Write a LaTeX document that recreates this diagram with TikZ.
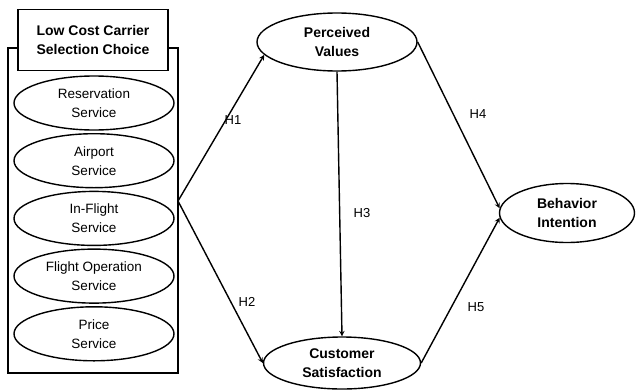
\documentclass[tikz,border=0pt]{standalone}
\usepackage{fontspec}
\setmainfont{Liberation Sans}
\usetikzlibrary{shapes.geometric}

\begin{document}
\begin{tikzpicture}[x=1pt,y=-1pt,line width=1.4pt,>=stealth,
  item/.style={ellipse,draw,minimum width=160pt,minimum height=54pt,inner sep=0pt,align=center,font=\fontsize{13.5}{19}\selectfont},
  var/.style={ellipse,draw,fill=white,inner sep=0pt,align=center,font=\bfseries\fontsize{14}{19}\selectfont},
  lab/.style={font=\fontsize{13}{15}\selectfont}]
\useasboundingbox (0,0) rectangle (636,391);
% left block
\draw (8,48) rectangle (178,373);
\node[draw,fill=white,minimum width=150pt,minimum height=61pt,align=center,font=\bfseries\fontsize{14}{19}\selectfont] (title) at (93,40) {Low Cost Carrier\\Selection Choice};
\foreach \i/\t in {1/Reservation\\Service,2/Airport\\Service,3/In-Flight\\Service,4/Flight Operation\\Service,5/Price\\Service}{\node[item] (s\i) at (94,103+57.7*\i-57.7) {\t};};
\coordinate (hub) at (178,201);
% constructs
\node[var,minimum width=160pt,minimum height=58pt] (pv) at (337,42) {Perceived\\Values};
\node[var,minimum width=157pt,minimum height=52pt] (cs) at (342,363) {Customer\\Satisfaction};
\node[var,minimum width=135pt,minimum height=59pt] (bi) at (567,213) {Behavior\\Intention};
% paths
\draw[->] (hub) -- (pv.190);
\draw[->] (hub) -- (cs.west);
\draw[->] (pv.south) -- (cs.north);
\draw[->] (pv.east) -- (bi.176);
\draw[->] (cs.east) -- (bi.184);
\node[lab] (h1) at (233,120) {H1};
\node[lab] (h2) at (247,302) {H2};
\node[lab] (h3) at (362,213) {H3};
\node[lab] (h4) at (478,114) {H4};
\node[lab] (h5) at (476,307) {H5};
\end{tikzpicture}
\end{document}
